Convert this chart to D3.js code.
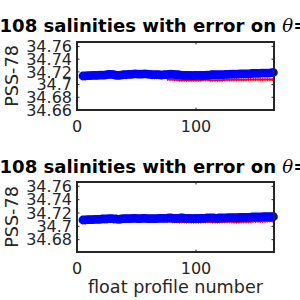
<!DOCTYPE html>
<html lang="en">
<head>
  <meta charset="UTF-8">
  <title>salinities with error</title>
  <script src="https://d3js.org/d3.v7.min.js"></script>
  <style>
    body { margin: 0; background: #fff; }
    svg { display: block; font-family: "DejaVu Sans", sans-serif; }
  </style>
</head>
<body>
<script>
const width = 300;
const height = 300;

// float profile numbers for the blue markers
const blueProfiles = [5,7,9,11,13,15,17,19,21,23,25,27,29,31,33,35,37,39,41,43,
  45,47,49,51,53,55,57,59,61,63,65,67,69,71,73,75,77,79,81,83,
  85,87,89,91,93,95,97,99,101,103,105,107,109,111,113,115,117,119,121,123,
  125,127,129,131,133,135,137,139,141,143,145,147,149,151,153,155,157,159,161,163,165];

const blueTop = [34.7135,34.7135,34.714,34.714,34.7145,34.7145,34.7145,34.715,34.715,34.715,
  34.7155,34.716,34.716,34.7155,34.7145,34.7145,34.715,34.7155,34.7155,34.716,
  34.716,34.7165,34.717,34.7165,34.7165,34.7165,34.717,34.7165,34.716,34.7155,
  34.7155,34.7155,34.7155,34.715,34.7155,34.7155,34.716,34.7165,34.716,34.7155,
  34.7155,34.715,34.7145,34.7145,34.7145,34.7145,34.714,34.7145,34.7145,34.7145,
  34.7145,34.7145,34.715,34.715,34.7155,34.7155,34.7155,34.7155,34.7155,34.7155,
  34.716,34.716,34.7165,34.7165,34.7165,34.7165,34.717,34.717,34.717,34.717,
  34.717,34.7175,34.7175,34.7175,34.7175,34.718,34.718,34.718,34.718,34.7185,34.719];

const blueBottom = [34.7095,34.7095,34.71,34.71,34.71,34.7105,34.7105,34.7105,34.711,34.711,
  34.711,34.7115,34.7115,34.711,34.711,34.7105,34.711,34.7115,34.7115,34.7115,
  34.7115,34.712,34.712,34.7115,34.7115,34.712,34.712,34.7115,34.7115,34.7115,
  34.7115,34.7115,34.712,34.712,34.712,34.712,34.7125,34.7125,34.712,34.712,
  34.712,34.7125,34.7125,34.712,34.712,34.712,34.7115,34.712,34.712,34.712,
  34.712,34.712,34.7125,34.7125,34.7125,34.7125,34.712,34.7125,34.7125,34.7125,
  34.7125,34.713,34.713,34.713,34.713,34.713,34.7135,34.7135,34.7135,34.7135,
  34.7135,34.714,34.714,34.714,34.714,34.714,34.7145,34.7145,34.7145,34.7145,34.7145];

// profile numbers for the red error-bar series
const redProfiles = [76,78,80,82,84,86,88,90,92,94,96,98,100,102,104,106,108,110,112,114,
  116,118,120,122,124,126,128,130,132,134,136,138,140,142,144,146,148,150,152,154,
  156,158,160,162,164,166];

const redTop = [34.7085,34.708,34.708,34.7075,34.7075,34.707,34.707,34.707,34.707,34.707,
  34.707,34.707,34.707,34.707,34.707,34.7075,34.7075,34.7075,34.707,34.707,
  34.707,34.707,34.707,34.707,34.7075,34.7075,34.7075,34.7075,34.7075,34.7075,
  34.7075,34.7075,34.7075,34.7075,34.708,34.708,34.708,34.708,34.708,34.708,
  34.708,34.708,34.708,34.708,34.708,34.708];

const redBottom = [34.7075,34.7075,34.707,34.707,34.707,34.7065,34.7065,34.7065,34.7065,34.7065,
  34.7065,34.7065,34.7065,34.7065,34.7065,34.707,34.707,34.707,34.707,34.7065,
  34.7065,34.7065,34.7065,34.707,34.707,34.707,34.707,34.707,34.7065,34.7065,
  34.7065,34.707,34.707,34.707,34.707,34.707,34.7075,34.7075,34.7075,34.7075,
  34.7075,34.7075,34.708,34.708,34.708,34.708];

const redErr = 0.0025;

const yTicksTop = [34.66, 34.68, 34.7, 34.72, 34.74, 34.76];
const yTicksBottom = [34.68, 34.7, 34.72, 34.74, 34.76];
const xTicks = [0, 100];

const titleText = "108 salinities with error on ";
const yLabel = "PSS-78";
const xLabel = "float profile number";

const ink = "#262626";

const svg = d3.select("body").append("svg")
  .attr("width", width)
  .attr("height", height);

function drawPanel(opts) {
  const x = d3.scaleLinear().domain([0, 165.5]).range([77, 274]);
  const y = d3.scaleLinear().domain(opts.yDomain).range([opts.bottom, opts.top]);
  const g = svg.append("g");

  // title (runs off the window, like the original)
  const t = g.append("text")
    .attr("x", -0.5)
    .attr("y", opts.titleY)
    .attr("font-size", 18.1)
    .attr("font-weight", "bold")
    .attr("fill", "#000");
  t.append("tspan").text(titleText);
  t.append("tspan").attr("font-family", "DejaVu Serif, serif").attr("font-style", "italic")
    .attr("font-weight", "normal").text("\u03b8");
  t.append("tspan").text("=");

  const plot = g.append("g");

  // red error bars + line
  const red = redProfiles.map((p, i) => ({ p, v: opts.red[i] }));
  plot.selectAll("line.err")
    .data(red)
    .join("line")
    .attr("class", "err")
    .attr("x1", d => x(d.p)).attr("x2", d => x(d.p))
    .attr("y1", d => y(d.v - redErr)).attr("y2", d => y(d.v + redErr))
    .attr("stroke", "#ff0000").attr("stroke-width", 1);
  plot.append("path")
    .datum(red)
    .attr("fill", "none")
    .attr("stroke", "#ff0000")
    .attr("stroke-width", 2)
    .attr("d", d3.line().x(d => x(d.p)).y(d => y(d.v)));

  // blue markers
  const blue = blueProfiles.map((p, i) => ({ p, v: opts.blue[i] }));
  plot.selectAll("circle")
    .data(blue)
    .join("circle")
    .attr("cx", d => x(d.p))
    .attr("cy", d => y(d.v))
    .attr("r", 4.4)
    .attr("fill", "#0000ff");

  // box
  g.append("rect")
    .attr("x", 77).attr("y", opts.top)
    .attr("width", 197).attr("height", opts.bottom - opts.top)
    .attr("fill", "none").attr("stroke", ink).attr("stroke-width", 2);

  // y ticks
  opts.yTicks.forEach(v => {
    g.append("line").attr("x1", 77).attr("x2", 79.5).attr("y1", y(v)).attr("y2", y(v)).attr("stroke", ink);
    g.append("line").attr("x1", 274).attr("x2", 271.5).attr("y1", y(v)).attr("y2", y(v)).attr("stroke", ink);
    g.append("text")
      .attr("x", 72).attr("y", y(v)).attr("dy", "0.36em")
      .attr("text-anchor", "end")
      .attr("font-size", 16).attr("fill", ink)
      .text(d3.format("")(v));
  });

  // x ticks
  xTicks.forEach(v => {
    g.append("line").attr("x1", x(v)).attr("x2", x(v)).attr("y1", opts.bottom).attr("y2", opts.bottom - 2.5).attr("stroke", ink);
    g.append("line").attr("x1", x(v)).attr("x2", x(v)).attr("y1", opts.top).attr("y2", opts.top + 2.5).attr("stroke", ink);
    g.append("text")
      .attr("x", x(v)).attr("y", opts.bottom + 22)
      .attr("text-anchor", "middle")
      .attr("font-size", 16).attr("fill", ink)
      .text(v);
  });

  // y label
  g.append("text")
    .attr("transform", `translate(18,${(opts.top + opts.bottom) / 2}) rotate(-90)`)
    .attr("text-anchor", "middle")
    .attr("font-size", 17.6).attr("fill", ink)
    .text(yLabel);

  if (opts.xLabel) {
    g.append("text")
      .attr("x", 175.5).attr("y", 293)
      .attr("text-anchor", "middle")
      .attr("font-size", 17.6).attr("fill", ink)
      .text(xLabel);
  }
}

drawPanel({ top: 42, bottom: 110, titleY: 32, yDomain: [34.66, 34.767],
  yTicks: yTicksTop, blue: blueTop, red: redTop, xLabel: false });
drawPanel({ top: 182, bottom: 252, titleY: 173, yDomain: [34.6615, 34.7665],
  yTicks: yTicksBottom, blue: blueBottom, red: redBottom, xLabel: true });
</script>
</body>
</html>
